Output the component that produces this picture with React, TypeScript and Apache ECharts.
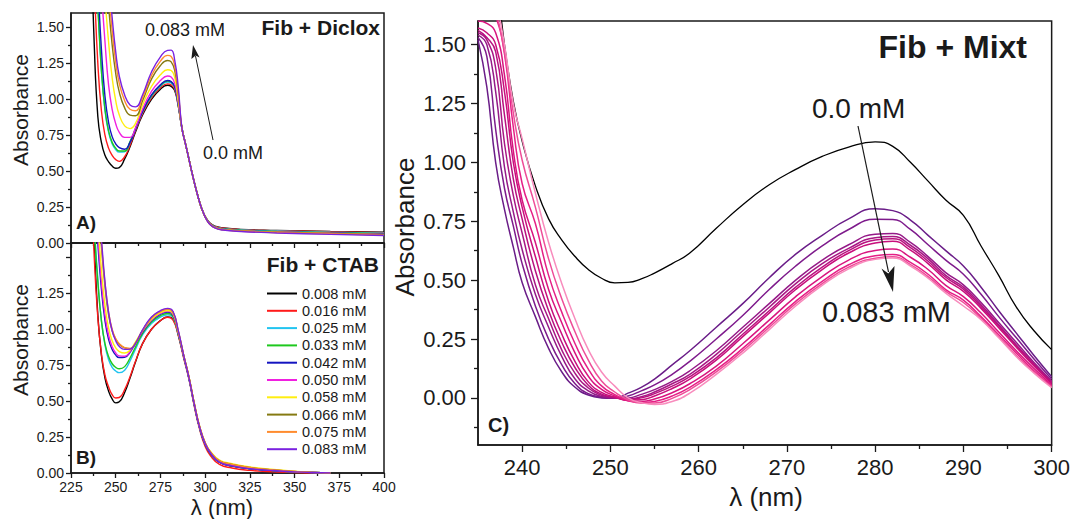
import React, { useEffect, useRef } from "react";
import * as echarts from "echarts";

const FONT = "'Liberation Sans', Arial, Helvetica, sans-serif";
const INK = "#1a1a1a";

// ---------- legend / colours ----------
const concLabels = ["0.008 mM", "0.016 mM", "0.025 mM", "0.033 mM", "0.042 mM", "0.050 mM", "0.058 mM", "0.066 mM", "0.075 mM", "0.083 mM"];
const concColors = ["#000000", "#ff1a1a", "#22c4f0", "#1ec81e", "#1414c0", "#f020e0", "#ffee10", "#857a12", "#ff8c2e", "#7a22e0"];
const mixtColors = ["#6a1d88", "#7e1b8c", "#951a88", "#a81784", "#b8127f", "#c80f7c", "#d8157f", "#e51f86", "#ee4d98", "#f88cbd"];

// ---------- tick values ----------
const xTicksAB = [225, 250, 275, 300, 325, 350, 375, 400];
const xMinorAB = [237.5, 262.5, 287.5, 312.5, 337.5, 362.5, 387.5];
const yTicksAB = [0, 0.25, 0.5, 0.75, 1.0, 1.25, 1.5];
const yLabelsB = [0, 0.25, 0.5, 0.75, 1.0, 1.25];
const yMinorAB = [0.125, 0.375, 0.625, 0.875, 1.125, 1.375];
const xTicksC = [240, 250, 260, 270, 280, 290, 300];
const xMinorC = [245, 255, 265, 275, 285, 295];
const yTicksC = [0, 0.25, 0.5, 0.75, 1.0, 1.25, 1.5];
const yMinorC = [-0.125, 0.125, 0.375, 0.625, 0.875, 1.125, 1.375];

// ---------- Panel A: Fib + Diclox ----------
const lambdaA = [236, 238, 240, 242, 244, 246, 248, 250, 252, 255, 258, 261, 265, 270, 275, 279, 281, 283, 285, 287, 289, 291, 293, 295, 297, 299, 301, 303, 306, 310, 320, 340, 370, 400];
const diclox008 = [2.2, 1.38, 0.88, 0.70, 0.61, 0.565, 0.535, 0.52, 0.525, 0.585, 0.67, 0.77, 0.89, 1.0, 1.07, 1.097, 1.09, 1.06, 0.95, 0.80, 0.69, 0.58, 0.47, 0.37, 0.28, 0.21, 0.165, 0.135, 0.115, 0.105, 0.095, 0.088, 0.08, 0.075];
const diclox016 = [2.4, 1.8, 1.25, 0.92, 0.75, 0.66, 0.61, 0.58, 0.568, 0.6, 0.68, 0.78, 0.9, 1.01, 1.08, 1.107, 1.1, 1.07, 0.955, 0.80, 0.69, 0.58, 0.47, 0.37, 0.28, 0.21, 0.165, 0.133, 0.113, 0.103, 0.093, 0.086, 0.078, 0.072];
const diclox025 = [2.6, 2.05, 1.65, 1.2, 0.92, 0.77, 0.69, 0.65, 0.632, 0.635, 0.70, 0.79, 0.91, 1.02, 1.09, 1.12, 1.113, 1.08, 0.96, 0.80, 0.69, 0.58, 0.47, 0.37, 0.28, 0.21, 0.163, 0.132, 0.11, 0.1, 0.09, 0.083, 0.075, 0.068];
const diclox033 = [2.6, 2.05, 1.64, 1.2, 0.93, 0.78, 0.70, 0.66, 0.64, 0.64, 0.705, 0.795, 0.915, 1.025, 1.095, 1.127, 1.12, 1.085, 0.962, 0.80, 0.69, 0.58, 0.47, 0.37, 0.28, 0.21, 0.162, 0.13, 0.108, 0.098, 0.088, 0.08, 0.072, 0.065];
const diclox042 = [2.7, 2.2, 1.8, 1.35, 1.02, 0.84, 0.74, 0.69, 0.663, 0.652, 0.70, 0.79, 0.915, 1.03, 1.10, 1.13, 1.123, 1.088, 0.965, 0.80, 0.69, 0.58, 0.47, 0.37, 0.28, 0.21, 0.16, 0.128, 0.106, 0.096, 0.086, 0.078, 0.07, 0.062];
const diclox050 = [2.9, 2.5, 2.1, 1.75, 1.4, 1.1, 0.93, 0.83, 0.77, 0.735, 0.735, 0.80, 0.93, 1.055, 1.13, 1.162, 1.155, 1.11, 0.975, 0.80, 0.69, 0.58, 0.47, 0.37, 0.28, 0.21, 0.16, 0.128, 0.106, 0.095, 0.085, 0.077, 0.068, 0.06];
const diclox058 = [3.0, 2.7, 2.35, 2.0, 1.7, 1.4, 1.15, 0.99, 0.89, 0.815, 0.796, 0.83, 0.96, 1.09, 1.17, 1.205, 1.2, 1.15, 0.99, 0.80, 0.69, 0.58, 0.47, 0.37, 0.28, 0.21, 0.16, 0.127, 0.105, 0.094, 0.084, 0.076, 0.067, 0.058];
const diclox066 = [3.2, 2.9, 2.6, 2.25, 1.95, 1.65, 1.38, 1.18, 1.05, 0.94, 0.89, 0.885, 0.99, 1.14, 1.235, 1.27, 1.26, 1.2, 1.03, 0.80, 0.69, 0.58, 0.47, 0.37, 0.28, 0.21, 0.16, 0.127, 0.104, 0.093, 0.083, 0.075, 0.066, 0.057];
const diclox075 = [3.3, 3.0, 2.7, 2.38, 2.05, 1.75, 1.48, 1.26, 1.11, 0.99, 0.93, 0.92, 1.01, 1.165, 1.265, 1.305, 1.298, 1.23, 1.05, 0.80, 0.69, 0.58, 0.47, 0.37, 0.28, 0.21, 0.158, 0.126, 0.103, 0.092, 0.082, 0.073, 0.064, 0.055];
const diclox083 = [3.4, 3.1, 2.8, 2.5, 2.15, 1.85, 1.57, 1.33, 1.16, 1.03, 0.96, 0.947, 1.03, 1.19, 1.295, 1.34, 1.342, 1.27, 1.08, 0.80, 0.69, 0.58, 0.47, 0.37, 0.28, 0.21, 0.158, 0.125, 0.102, 0.09, 0.08, 0.07, 0.06, 0.052];
const dicloxSeries = [diclox008, diclox016, diclox025, diclox033, diclox042, diclox050, diclox058, diclox066, diclox075, diclox083];

// ---------- Panel B: Fib + CTAB ----------
const lambdaB = [236, 238, 240, 242, 244, 246, 248, 250, 252, 255, 258, 261, 265, 270, 275, 279, 282, 285, 288, 291, 294, 297, 300, 303, 308, 315, 325, 335, 350, 360, 370];
const ctab008 = [2.4, 1.62, 1.1, 0.82, 0.66, 0.57, 0.515, 0.488, 0.495, 0.56, 0.66, 0.77, 0.9, 1.0, 1.06, 1.085, 1.07, 0.96, 0.81, 0.66, 0.47, 0.31, 0.2, 0.14, 0.075, 0.048, 0.03, 0.02, 0.008, 0.003, 0.0];
const ctab016 = [2.2, 1.5, 1.08, 0.83, 0.68, 0.6, 0.545, 0.522, 0.525, 0.58, 0.67, 0.775, 0.9, 1.0, 1.06, 1.083, 1.065, 0.955, 0.80, 0.65, 0.46, 0.30, 0.185, 0.12, 0.06, 0.035, 0.018, 0.01, 0.003, 0.0, 0.0];
const ctab025 = [2.4, 1.75, 1.35, 1.06, 0.89, 0.79, 0.735, 0.71, 0.698, 0.715, 0.78, 0.86, 0.96, 1.04, 1.085, 1.10, 1.085, 0.965, 0.81, 0.655, 0.47, 0.31, 0.20, 0.135, 0.075, 0.05, 0.03, 0.02, 0.008, 0.003, 0.0];
const ctab033 = [2.4, 1.72, 1.33, 1.06, 0.90, 0.81, 0.76, 0.735, 0.725, 0.74, 0.80, 0.875, 0.97, 1.05, 1.095, 1.11, 1.09, 0.965, 0.81, 0.655, 0.47, 0.31, 0.20, 0.135, 0.075, 0.05, 0.03, 0.02, 0.008, 0.003, 0.0];
const ctab042 = [2.6, 2.0, 1.6, 1.28, 1.06, 0.93, 0.86, 0.82, 0.803, 0.805, 0.84, 0.90, 0.98, 1.06, 1.105, 1.12, 1.10, 0.97, 0.81, 0.655, 0.47, 0.31, 0.20, 0.135, 0.075, 0.05, 0.03, 0.02, 0.008, 0.003, 0.0];
const ctab050 = [2.7, 2.05, 1.66, 1.33, 1.1, 0.96, 0.88, 0.835, 0.815, 0.812, 0.845, 0.905, 0.985, 1.065, 1.11, 1.125, 1.105, 0.975, 0.815, 0.66, 0.475, 0.315, 0.205, 0.14, 0.08, 0.055, 0.035, 0.022, 0.009, 0.003, 0.0];
const ctab058 = [2.8, 2.15, 1.75, 1.42, 1.17, 1.01, 0.92, 0.87, 0.845, 0.835, 0.855, 0.91, 0.99, 1.07, 1.115, 1.13, 1.11, 0.98, 0.82, 0.665, 0.48, 0.32, 0.21, 0.15, 0.09, 0.065, 0.042, 0.028, 0.012, 0.004, 0.0];
const ctab066 = [2.9, 2.3, 1.88, 1.58, 1.3, 1.1, 0.99, 0.93, 0.895, 0.87, 0.864, 0.90, 0.99, 1.08, 1.125, 1.14, 1.12, 0.985, 0.82, 0.665, 0.48, 0.32, 0.21, 0.145, 0.085, 0.06, 0.038, 0.025, 0.01, 0.004, 0.0];
const ctab075 = [2.95, 2.35, 1.92, 1.6, 1.32, 1.12, 1.0, 0.935, 0.90, 0.872, 0.866, 0.90, 0.99, 1.08, 1.125, 1.14, 1.12, 0.985, 0.82, 0.665, 0.48, 0.32, 0.21, 0.145, 0.085, 0.06, 0.038, 0.025, 0.01, 0.004, 0.0];
const ctab083 = [3.0, 2.4, 1.95, 1.63, 1.33, 1.12, 0.99, 0.92, 0.88, 0.86, 0.862, 0.90, 0.995, 1.085, 1.13, 1.145, 1.125, 0.99, 0.82, 0.66, 0.475, 0.315, 0.205, 0.14, 0.075, 0.05, 0.03, 0.02, 0.008, 0.003, 0.0];
const ctabSeries = [ctab008, ctab016, ctab025, ctab033, ctab042, ctab050, ctab058, ctab066, ctab075, ctab083];

// ---------- Panel C: Fib + Mixt ----------
const lambdaC = [235, 236, 237, 238, 239, 240, 241.5, 243, 244.5, 246, 247.5, 249, 250.5, 252, 253.5, 255, 257, 259, 262, 265, 268, 271, 274, 277, 280, 282, 284, 286, 288, 290, 292, 294, 296, 298, 300];
const mixt000 = [2.3, 2.05, 1.82, 1.5, 1.26, 1.09, 0.9, 0.76, 0.67, 0.6, 0.545, 0.508, 0.488, 0.49, 0.505, 0.53, 0.57, 0.615, 0.72, 0.82, 0.905, 0.97, 1.025, 1.065, 1.087, 1.068, 1.0, 0.92, 0.84, 0.775, 0.645, 0.52, 0.385, 0.285, 0.205];
const mixt008 = [1.52, 1.32, 1.0, 0.80, 0.64, 0.49, 0.345, 0.21, 0.11, 0.045, 0.012, 0.0, -0.002, 0.02, 0.045, 0.08, 0.14, 0.20, 0.30, 0.40, 0.51, 0.61, 0.69, 0.76, 0.803, 0.795, 0.755, 0.69, 0.625, 0.56, 0.47, 0.37, 0.275, 0.18, 0.09];
const mixt016 = [1.53, 1.45, 1.14, 0.89, 0.73, 0.57, 0.39, 0.25, 0.14, 0.06, 0.018, 0.003, -0.002, 0.008, 0.03, 0.055, 0.10, 0.155, 0.25, 0.35, 0.46, 0.56, 0.645, 0.715, 0.758, 0.757, 0.715, 0.65, 0.585, 0.525, 0.44, 0.345, 0.255, 0.165, 0.08];
const mixt025 = [1.54, 1.50, 1.30, 0.98, 0.79, 0.63, 0.44, 0.30, 0.175, 0.08, 0.03, 0.006, -0.001, 0.0, 0.015, 0.035, 0.07, 0.115, 0.20, 0.30, 0.40, 0.50, 0.585, 0.65, 0.695, 0.698, 0.66, 0.60, 0.532, 0.48, 0.405, 0.32, 0.235, 0.15, 0.072];
const mixt033 = [1.55, 1.52, 1.40, 1.08, 0.86, 0.70, 0.48, 0.336, 0.203, 0.104, 0.042, 0.011, 0.0, -0.005, 0.005, 0.025, 0.06, 0.10, 0.185, 0.285, 0.385, 0.485, 0.57, 0.635, 0.68, 0.685, 0.648, 0.59, 0.52, 0.47, 0.395, 0.31, 0.225, 0.145, 0.068];
const mixt042 = [1.56, 1.53, 1.47, 1.20, 0.93, 0.76, 0.54, 0.37, 0.235, 0.128, 0.054, 0.016, 0.002, -0.008, 0.0, 0.018, 0.05, 0.09, 0.17, 0.27, 0.37, 0.47, 0.555, 0.625, 0.67, 0.676, 0.638, 0.58, 0.512, 0.462, 0.388, 0.305, 0.22, 0.14, 0.064];
const mixt050 = [1.57, 1.55, 1.50, 1.30, 1.00, 0.81, 0.60, 0.41, 0.27, 0.154, 0.068, 0.023, 0.004, -0.01, -0.008, 0.008, 0.04, 0.08, 0.16, 0.26, 0.36, 0.46, 0.545, 0.615, 0.658, 0.665, 0.627, 0.57, 0.502, 0.452, 0.38, 0.298, 0.215, 0.135, 0.06];
const mixt058 = [1.60, 1.59, 1.55, 1.37, 1.05, 0.84, 0.66, 0.46, 0.318, 0.19, 0.092, 0.036, 0.008, -0.012, -0.015, -0.005, 0.022, 0.06, 0.135, 0.23, 0.33, 0.43, 0.515, 0.585, 0.626, 0.632, 0.597, 0.545, 0.478, 0.43, 0.36, 0.28, 0.20, 0.125, 0.055];
const mixt066 = [1.72, 1.68, 1.62, 1.46, 1.15, 0.91, 0.74, 0.52, 0.363, 0.23, 0.122, 0.051, 0.014, -0.012, -0.02, -0.015, 0.008, 0.045, 0.12, 0.21, 0.31, 0.41, 0.495, 0.565, 0.603, 0.609, 0.575, 0.525, 0.46, 0.415, 0.345, 0.268, 0.19, 0.115, 0.05];
const mixt075 = [1.85, 1.78, 1.65, 1.47, 1.21, 1.01, 0.81, 0.59, 0.42, 0.28, 0.16, 0.072, 0.025, -0.008, -0.022, -0.022, -0.002, 0.035, 0.11, 0.20, 0.30, 0.40, 0.485, 0.555, 0.593, 0.599, 0.566, 0.515, 0.452, 0.405, 0.338, 0.26, 0.18, 0.11, 0.047];
const mixt083 = [1.95, 1.88, 1.70, 1.50, 1.25, 1.10, 0.87, 0.66, 0.485, 0.335, 0.205, 0.11, 0.05, 0.0, -0.02, -0.028, -0.015, 0.02, 0.10, 0.19, 0.29, 0.39, 0.478, 0.548, 0.588, 0.594, 0.56, 0.508, 0.445, 0.39, 0.332, 0.255, 0.175, 0.105, 0.043];
const mixtSeries = [mixt008, mixt016, mixt025, mixt033, mixt042, mixt050, mixt058, mixt066, mixt075, mixt083];

// ---------- helpers ----------
function axis(o: any) {
  return {
    type: "value",
    gridIndex: o.grid,
    min: o.min,
    max: o.max,
    position: o.position,
    axisLine: { show: o.line, onZero: false, lineStyle: { color: INK, width: 1.5 } },
    axisTick: { show: true, inside: false, length: o.len, customValues: o.ticks, lineStyle: { color: INK, width: 1.3 } },
    axisLabel: o.labels
      ? {
          show: true,
          customValues: o.labels,
          fontSize: o.fontSize,
          margin: o.margin,
          color: INK,
          fontFamily: FONT,
          formatter: (v: number) => (o.digits != null ? Number(v).toFixed(o.digits) : String(v)),
        }
      : { show: false },
    splitLine: { show: false },
    minorTick: { show: false },
  };
}

function lineSeries(name: string, xs: number[], ys: number[], color: string, xi: number, yi: number, width = 1.4) {
  return {
    type: "line",
    name,
    xAxisIndex: xi,
    yAxisIndex: yi,
    data: xs.map((x, k) => [x, ys[k]]),
    symbol: "none",
    showSymbol: false,
    smooth: 0.5,
    clip: true,
    silent: true,
    lineStyle: { color, width },
    itemStyle: { color },
  };
}

function txt(text: string, x: number, y: number, size: number, opts: any = {}) {
  return {
    type: "text",
    x,
    y,
    rotation: opts.rotation || 0,
    z: 100,
    style: {
      text,
      fontSize: size,
      fontFamily: FONT,
      fontWeight: opts.bold ? "bold" : "normal",
      fill: INK,
      align: opts.align || "left",
      verticalAlign: "middle",
    },
  };
}

export default function App() {
  const ref = useRef<HTMLDivElement>(null);

  useEffect(() => {
    if (!ref.current) return;
    const chart = echarts.init(ref.current, undefined, { renderer: "svg" });

    const series: any[] = [];
    dicloxSeries.forEach((ys, i) => series.push(lineSeries(concLabels[i], lambdaA, ys, concColors[i], 0, 0)));
    ctabSeries.forEach((ys, i) => series.push(lineSeries(concLabels[i], lambdaB, ys, concColors[i], 2, 2)));
    series.push(lineSeries("Mixt 0.0 mM", lambdaC, mixt000, "#000000", 4, 4, 1.3));
    mixtSeries.forEach((ys, i) => series.push(lineSeries("Mixt " + concLabels[i], lambdaC, ys, mixtColors[i], 4, 4, 1.5)));

    const gridBase = { show: true, borderColor: INK, borderWidth: 1.5, backgroundColor: "transparent" };

    const option: any = {
      animation: false,
      backgroundColor: "#ffffff",
      grid: [
        { ...gridBase, left: 71, top: 13, width: 313, height: 230 },
        { ...gridBase, left: 71, top: 243, width: 313, height: 230 },
        { ...gridBase, left: 478, top: 21, width: 576, height: 424 },
      ],
      legend: {
        data: concLabels,
        orient: "vertical",
        left: 267,
        top: 286,
        icon: "rect",
        itemWidth: 30,
        itemHeight: 2,
        itemGap: 2.3,
        padding: 0,
        selectedMode: false,
        textStyle: { fontSize: 14.5, lineHeight: 14, color: INK, fontFamily: FONT, padding: [0, 0, 0, 0] },
      },
      xAxis: [
        axis({ grid: 0, min: 225, max: 400, ticks: xTicksAB, len: 5, line: true, position: "bottom" }),
        axis({ grid: 0, min: 225, max: 400, ticks: xMinorAB, len: 3, line: false, position: "bottom" }),
        axis({ grid: 1, min: 225, max: 400, ticks: xTicksAB, labels: xTicksAB, len: 5, line: true, position: "bottom", fontSize: 14, margin: 7 }),
        axis({ grid: 1, min: 225, max: 400, ticks: xMinorAB, len: 3, line: false, position: "bottom" }),
        axis({ grid: 2, min: 235, max: 300, ticks: xTicksC, labels: xTicksC, len: 7, line: true, position: "bottom", fontSize: 22, margin: 11 }),
        axis({ grid: 2, min: 235, max: 300, ticks: xMinorC, len: 4, line: false, position: "bottom" }),
      ],
      yAxis: [
        axis({ grid: 0, min: 0, max: 1.6, ticks: yTicksAB, labels: yTicksAB, len: 5, line: true, position: "left", fontSize: 14, margin: 7, digits: 2 }),
        axis({ grid: 0, min: 0, max: 1.6, ticks: yMinorAB, len: 3, line: false, position: "left" }),
        axis({ grid: 1, min: 0, max: 1.6, ticks: yTicksAB, labels: yLabelsB, len: 5, line: true, position: "left", fontSize: 14, margin: 7, digits: 2 }),
        axis({ grid: 1, min: 0, max: 1.6, ticks: yMinorAB, len: 3, line: false, position: "left" }),
        axis({ grid: 2, min: -0.2, max: 1.6, ticks: yTicksC, labels: yTicksC, len: 7, line: true, position: "left", fontSize: 22, margin: 12, digits: 2 }),
        axis({ grid: 2, min: -0.2, max: 1.6, ticks: yMinorC, len: 4, line: false, position: "left" }),
      ],
      series,
      graphic: [
        // panel A
        txt("Fib + Diclox", 380, 27, 21, { bold: true, align: "right" }),
        txt("0.083 mM", 145, 30, 18),
        txt("0.0 mM", 203, 153, 18),
        txt("A)", 76, 222, 19, { bold: true }),
        { type: "line", z: 100, shape: { x1: 213, y1: 140, x2: 195.5, y2: 56 }, style: { stroke: INK, lineWidth: 1 } },
        { type: "polygon", z: 100, shape: { points: [[193, 45], [199.6, 57.5], [195.6, 55.5], [191.4, 59]] }, style: { fill: INK } },
        txt("Absorbance", 20, 110, 21, { rotation: Math.PI / 2, align: "center" }),
        // panel B
        txt("Fib + CTAB", 379, 264, 21, { bold: true, align: "right" }),
        txt("B)", 76, 457, 19, { bold: true }),
        txt("Absorbance", 20, 340, 21, { rotation: Math.PI / 2, align: "center" }),
        txt("λ (nm)", 222, 507, 22, { align: "center" }),
        // panel C
        txt("Fib + Mixt", 1027, 47, 32, { bold: true, align: "right" }),
        txt("0.0 mM", 812, 108, 28),
        txt("0.083 mM", 822, 312, 29),
        txt("C)", 488, 425, 20, { bold: true }),
        { type: "line", z: 100, shape: { x1: 858, y1: 126, x2: 888.5, y2: 272 }, style: { stroke: INK, lineWidth: 1.2 } },
        { type: "polygon", z: 100, shape: { points: [[893, 292], [881.5, 268.5], [888.3, 273.5], [894.5, 266]] }, style: { fill: INK } },
        txt("Absorbance", 405, 227, 26, { rotation: Math.PI / 2, align: "center" }),
        txt("λ (nm)", 766, 497, 26, { align: "center" }),
      ],
    };

    chart.setOption(option);
    return () => chart.dispose();
  }, []);

  return (
    <div
      ref={ref}
      style={{ position: "absolute", left: 0, top: 0, width: 1073, height: 519, background: "#fff" }}
    />
  );
}
